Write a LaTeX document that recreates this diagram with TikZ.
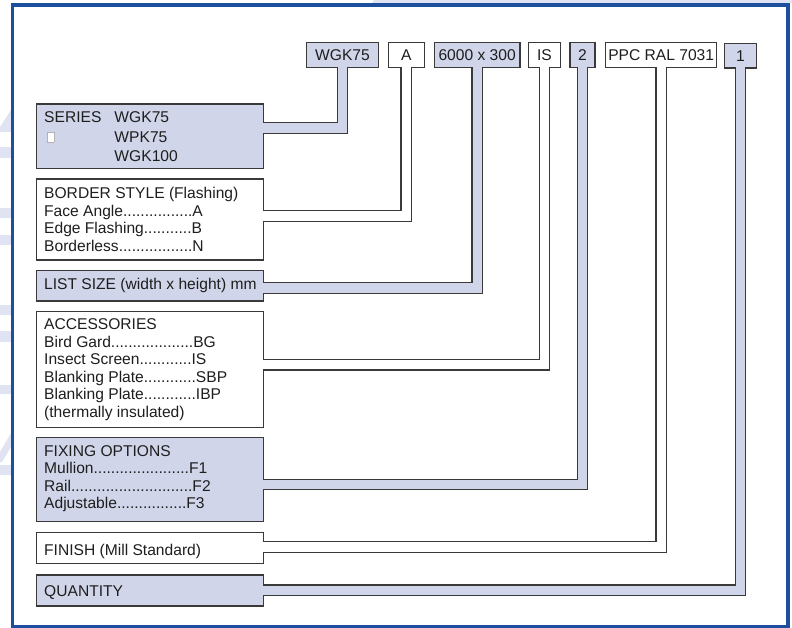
\documentclass[tikz,border=0pt]{standalone}
\usepackage{fontspec}
\setmainfont{Liberation Sans}

\definecolor{lav}{RGB}{208,213,233}
\definecolor{wash}{RGB}{224,227,241}
\definecolor{frameblue}{RGB}{29,79,159}
\definecolor{edge}{RGB}{58,58,58}
\definecolor{ink}{RGB}{30,30,30}

\newcommand{\tofubox}{{\fboxsep=0pt\fboxrule=0.6pt\fcolorbox{black!30}{white}{\rule{0pt}{9.4pt}\hspace{6.4pt}}}}
\newcommand{\firstline}{\rule{0pt}{12pt}}

\begin{document}
\begin{tikzpicture}[x=1pt, y=-1pt,
	cbox/.style={draw=edge, line width=1.3pt, outer sep=0pt, inner sep=0pt, minimum height=24.6pt, text=ink, font=\fontsize{15.6}{17}\selectfont},
	lbox/.style={draw=edge, line width=1.3pt, outer sep=0pt, inner sep=0pt, minimum width=226.6pt},
	txt/.style={anchor=north west, inner sep=0pt, align=left, text=ink, font=\fontsize{15.6}{17.5}\selectfont},
	pipe/.style={draw=edge, line width=1.3pt, double=#1, double distance=9.3pt, shorten <=-0.7pt, shorten >=-0.7pt}]
	\useasboundingbox (0,0) rectangle (792,628);

	% faint watermark behind the frame
	\fill [wash] (0,127) -- (11,110) -- (11,132) -- (0,132) -- cycle;
	\fill [wash] (0,147.3) rectangle (11,158.3);
	\fill [wash] (0,208.3) rectangle (11,218.3);
	\fill [wash] (0,235) rectangle (11,245);
	\fill [wash] (0,305) rectangle (11,315);
	\fill [wash] (0,330.7) rectangle (11,341.7);
	\fill [wash] (0,385) rectangle (11,394.3);
	\fill [wash] (0,452) -- (11,433) -- (11,447) -- (2,462) -- (0,462) -- cycle;
	\fill [wash] (0,465) rectangle (11,475);
	\fill [wash] (372,3) -- (374,0) -- (792,0) -- (792,3) -- cycle;

	\draw [frameblue, line width=3.8pt] (12.5,5.3) rectangle (788,627);

	% order code
	\node [cbox, fill=lav, minimum width=71.6pt] (wgk) at (342.5,55) {WGK75};
	\node [cbox, fill=white, minimum width=36pt] (border-code) at (406.3,55) {A};
	\node [cbox, fill=lav, minimum width=85.7pt] (size-code) at (477.15,55) {6000 x 300};
	\node [cbox, fill=white, minimum width=32.4pt] (acc-code) at (544.5,55) {IS};
	\node [cbox, fill=lav, minimum width=25pt] (fix-code) at (582.5,55) {2};
	\node [cbox, fill=white, minimum width=111pt] (finish-code) at (661.2,55) {PPC RAL 7031};
	\node [cbox, fill=lav, minimum width=32.4pt] (qty-code) at (740.5,55.8) {1};

	% legend boxes
	\node [lbox, fill=lav, minimum height=64.3pt] (series) at (150,136.15) {};
	\node [lbox, fill=white, minimum height=81pt] (border) at (150,219.5) {};
	\node [lbox, fill=lav, minimum height=30.3pt] (listsize) at (150,285.85) {};
	\node [lbox, fill=white, minimum height=115.6pt] (access) at (150,369.5) {};
	\node [lbox, fill=lav, minimum height=84pt] (fixing) at (150,479.7) {};
	\node [lbox, fill=white, minimum height=31pt] (finish) at (150,547.8) {};
	\node [lbox, fill=lav, minimum height=31pt] (qty) at (150,590.5) {};

	\node [txt, font=\fontsize{15.6}{19.3}\selectfont] (series-t) at (44,110.7)
		{\firstline\makebox[70.3pt][l]{SERIES}WGK75\\
		 \makebox[70.3pt][l]{\hspace{2.4pt}\tofubox}WPK75\\
		 \hspace{70.3pt}WGK100};
	\node [txt] (border-t) at (44,186.7)
		{\firstline BORDER STYLE (Flashing)\\
		 Face Angle................A\\
		 Edge Flashing...........B\\
		 Borderless.................N};
	\node [txt] (listsize-t) at (44,277.3) {\firstline LIST SIZE (width x height) mm};
	\node [txt] (access-t) at (44,317.3)
		{\firstline ACCESSORIES\\
		 Bird Gard...................BG\\
		 Insect Screen............IS\\
		 Blanking Plate............SBP\\
		 Blanking Plate............IBP\\
		 (thermally insulated)};
	\node [txt] (fixing-t) at (44,444)
		{\firstline FIXING OPTIONS\\
		 Mullion......................F1\\
		 Rail............................F2\\
		 Adjustable................F3};
	\node [txt] (finish-t) at (44,543) {\firstline FINISH (Mill Standard)};
	\node [txt] (qty-t) at (44,584.7) {\firstline QUANTITY};

	% leader pipes
	\coordinate (lv-series) at (0,128);
	\coordinate (lv-border) at (0,216);
	\coordinate (lv-size) at (0,288);
	\coordinate (lv-access) at (0,364.7);
	\coordinate (lv-fixing) at (0,484.5);
	\coordinate (lv-finish) at (0,547);
	\coordinate (lv-qty) at (0,590.3);

	\draw [pipe=lav] (wgk.south) |- (series.east |- lv-series);
	\draw [pipe=white] (border-code.south) |- (border.east |- lv-border);
	\draw [pipe=lav] (size-code.south) |- (listsize.east |- lv-size);
	\draw [pipe=white] (acc-code.south) |- (access.east |- lv-access);
	\draw [pipe=lav] (fix-code.south) |- (fixing.east |- lv-fixing);
	\draw [pipe=white] (finish-code.south) |- (finish.east |- lv-finish);
	\draw [pipe=lav] (qty-code.south) |- (qty.east |- lv-qty);
\end{tikzpicture}
\end{document}
